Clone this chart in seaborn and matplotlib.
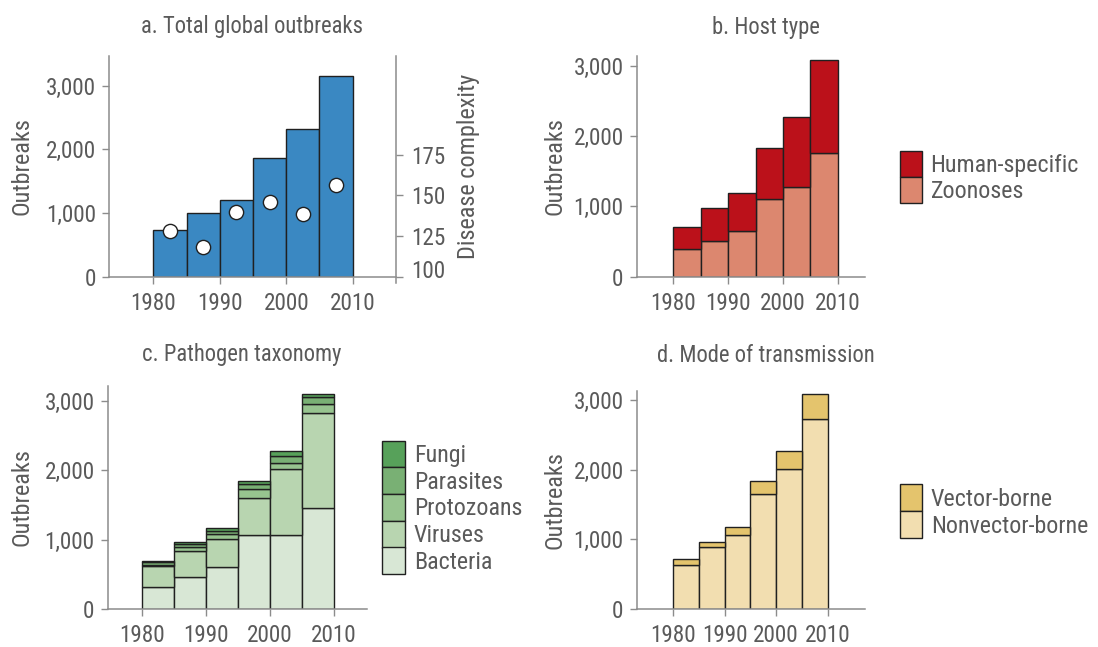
import numpy as np
import pandas as pd
import matplotlib
matplotlib.use("Agg")
import matplotlib.pyplot as plt
import seaborn as sns
from matplotlib import font_manager as fm
from matplotlib.font_manager import FontProperties
from matplotlib.textpath import TextPath
from matplotlib.patches import Patch
from matplotlib.transforms import blended_transform_factory, ScaledTranslation

# ---------------- data ----------------
bin_edges = [1980, 1985, 1990, 1995, 2000, 2005, 2010]
periods = [1982.5, 1987.5, 1992.5, 1997.5, 2002.5, 2007.5]

total_outbreaks = [733, 995, 1204, 1864, 2319, 3152]
disease_complexity = [128.1, 118.4, 139.8, 145.9, 138.5, 156.6]

host_labels = ["Human-specific", "Zoonoses"]
human_specific = [314, 465, 550, 717, 992, 1319]
zoonoses = [389, 513, 646, 1111, 1277, 1766]

taxa_labels = ["Fungi", "Parasites", "Protozoans", "Viruses", "Bacteria"]
fungi = [12, 35, 41, 53, 72, 38]
parasites = [38, 32, 55, 67, 91, 101]
protozoans = [15, 63, 67, 125, 96, 139]
viruses = [297, 369, 398, 537, 945, 1359]
bacteria = [322, 466, 610, 1066, 1066, 1459]

mode_labels = ["Vector-borne", "Nonvector-borne"]
vector_borne = [81, 72, 120, 191, 258, 363]
nonvector_borne = [632, 890, 1062, 1646, 2010, 2723]

x_ticks = [1980, 1990, 2000, 2010]
y_ticks = [0, 1000, 2000, 3000]
y_tick_labels = ["0", "1,000", "2,000", "3,000"]
complexity_ticks = [100, 125, 150, 175]
complexity_tick_labels = ["100", "125", "150", "175"]

titles = ["a. Total global outbreaks", "b. Host type",
          "c. Pathogen taxonomy", "d. Mode of transmission"]

# ---------------- colours ----------------
BLUE = "#3a88c2"
host_colors = {"Human-specific": "#bb111a", "Zoonoses": "#dc876f"}
taxa_colors = {"Fungi": "#57a15a", "Parasites": "#79b074", "Protozoans": "#97c48f",
               "Viruses": "#b8d5b0", "Bacteria": "#d8e7d5"}
mode_colors = {"Vector-borne": "#e4c46d", "Nonvector-borne": "#f2deb0"}
EDGE = "#202020"
SPINE = "#8c8c8c"
TEXT = "#5a5a5a"

# ---------------- font ----------------
def pick_font():
    entries = fm.fontManager.ttflist
    names = {e.name for e in entries}
    for cand in ["Noto Sans SemiCondensed", "Roboto Condensed", "Open Sans SemiCondensed",
                 "Noto Sans Condensed", "Open Sans Condensed", "Liberation Sans Narrow",
                 "Arial Narrow"]:
        if cand in names:
            return cand, "normal"
    for e in entries:
        if e.name == "DejaVu Sans" and str(e.stretch) in ("condensed", "semi-condensed"):
            return "DejaVu Sans", "condensed"
    for e in entries:
        if ("Condensed" in e.name or "Narrow" in e.name) and "CJK" not in e.name:
            return e.name, "normal"
    return "Roboto", "normal"

FONT, STRETCH = pick_font()

sns.set_style("ticks")
plt.rcParams["font.family"] = [FONT, "DejaVu Sans"]
plt.rcParams["font.stretch"] = STRETCH
plt.rcParams["text.color"] = TEXT
plt.rcParams["axes.labelcolor"] = TEXT

PX = 100 / 72.0


def fit(sample, w_px, cap_px):
    fp = FontProperties(family=FONT, stretch=STRETCH, size=10)
    w = TextPath((0, 0), sample, prop=fp).get_extents().width * PX
    c = TextPath((0, 0), "H", prop=fp).get_extents().height * PX
    sw = 10 * w_px / w
    sh = 10 * cap_px / c
    return (sw * sh) ** 0.5


TICK_FS = fit("3,000", 48, 16.3)
LEG_FS = fit("Human-specific", 149, 16.7)
YLAB_FS = fit("Disease complexity", 183, 17.3)
TITLE_FS = fit("a. Total global outbreaks", 233, 13.2) * 1.07

W, H = 1098, 647
fig = plt.figure(figsize=(W / 100, H / 100), dpi=100)
fig.patch.set_facecolor("white")


def add_axes_px(left, right, top, bottom):
    return fig.add_axes([left / W, 1 - bottom / H, (right - left) / W, (bottom - top) / H])


def style_axis(ax, xlim, ytop, ylabel_x):
    ax.set_xlim(*xlim)
    ax.set_ylim(0, ytop)
    ax.set_xticks(x_ticks)
    ax.set_xticklabels([str(t) for t in x_ticks])
    ax.set_yticks(y_ticks)
    ax.set_yticklabels(y_tick_labels)
    for s in ("top", "right"):
        ax.spines[s].set_visible(False)
    for s in ("left", "bottom"):
        ax.spines[s].set_color(SPINE)
        ax.spines[s].set_linewidth(1.1)
    ax.tick_params(axis="both", labelsize=TICK_FS, colors=SPINE, labelcolor=TEXT,
                   length=5, width=1.0, direction="out")
    ax.tick_params(axis="x", pad=6)
    ax.tick_params(axis="y", pad=4.5)
    ax.set_xlabel("")
    ax.set_ylabel("Outbreaks", fontsize=YLAB_FS, color=TEXT)
    desc = 0.21 * YLAB_FS * PX
    tr = blended_transform_factory(fig.transFigure, ax.transAxes)
    ax.yaxis.set_label_coords((ylabel_x + desc) / W, 0.5, transform=tr)
    ax.set_facecolor("none")


def make_long(labels, series):
    rows = []
    for lab, vals in zip(labels, series):
        for p, v in zip(periods, vals):
            rows.append({"period": p, "count": v, "group": lab})
    return pd.DataFrame(rows)


def add_legend(ax, labels, colors, x_px, y_px, patch_h=26.6, patch_w=22.5):
    handles = [Patch(facecolor=colors[l], edgecolor=EDGE, linewidth=1.0) for l in labels]
    fs_px = LEG_FS * PX
    hh = (patch_h / fs_px - 0.245) / 0.65
    ax.legend(handles=handles, labels=labels, loc="upper left",
              bbox_to_anchor=(x_px / W, 1 - y_px / H), bbox_transform=fig.transFigure,
              frameon=False, fontsize=LEG_FS, labelcolor=TEXT,
              handlelength=patch_w / fs_px, handleheight=hh,
              handletextpad=8.5 / fs_px, labelspacing=0.0, borderpad=0.0,
              borderaxespad=0.0)


# ---------------- panel a ----------------
axa = add_axes_px(109, 395.7, 56, 276.7)
sns.histplot(x=periods, weights=total_outbreaks, bins=bin_edges, color=BLUE,
             edgecolor=EDGE, linewidth=1.0, alpha=1, ax=axa)
style_axis(axa, (1973.3, 2016.5), 3466, 28)

axa2 = axa.twinx()
sns.scatterplot(x=periods, y=disease_complexity, ax=axa2, s=105, color="white",
                edgecolor=EDGE, linewidth=1.0, zorder=5)
axa2.set_xlim(1973.3, 2016.5)
axa2.set_ylim(100, 235.7)
axa2.set_yticks(complexity_ticks)
axa2.set_yticklabels(complexity_tick_labels)
for s in ("top", "left", "bottom"):
    axa2.spines[s].set_visible(False)
axa2.spines["right"].set_color(SPINE)
axa2.spines["right"].set_linewidth(1.1)
axa2.spines["right"].set_bounds(96.0, 235.7)
axa2.tick_params(axis="y", labelsize=TICK_FS, colors=SPINE, labelcolor=TEXT,
                 length=5, width=1.0, direction="out", pad=6.5)
# the "100" label sits a little above its tick in the reference
lbl100 = axa2.get_yticklabels()[0]
lbl100.set_transform(lbl100.get_transform() + ScaledTranslation(0, 7.5 / 100, fig.dpi_scale_trans))
axa2.set_ylabel("Disease complexity", fontsize=YLAB_FS, color=TEXT, rotation=90)
tr2 = blended_transform_factory(fig.transFigure, axa2.transAxes)
axa2.yaxis.set_label_coords(457.3 / W, 0.5, transform=tr2)

# ---------------- panel b ----------------
axb = add_axes_px(636.7, 865, 56, 276.7)
df_b = make_long(host_labels, [human_specific, zoonoses])
sns.histplot(data=df_b, x="period", weights="count", hue="group", hue_order=host_labels,
             palette=host_colors, bins=bin_edges, multiple="stack", edgecolor=EDGE,
             linewidth=1.0, alpha=1, legend=False, ax=axb)
style_axis(axb, (1973.3, 2015.0), 3142, 561.7)
add_legend(axb, host_labels, host_colors, 900, 151, patch_h=26.0, patch_w=22.0)

# ---------------- panel c ----------------
axc = add_axes_px(107.7, 366.7, 386, 609)
df_c = make_long(taxa_labels, [fungi, parasites, protozoans, viruses, bacteria])
sns.histplot(data=df_c, x="period", weights="count", hue="group", hue_order=taxa_labels,
             palette=taxa_colors, bins=bin_edges, multiple="stack", edgecolor=EDGE,
             linewidth=1.0, alpha=1, legend=False, ax=axc)
style_axis(axc, (1974.6, 2015.1), 3211, 28.3)
add_legend(axc, taxa_labels, taxa_colors, 382.3, 440.7, patch_h=26.7, patch_w=23.0)

# ---------------- panel d ----------------
axd = add_axes_px(636.7, 865, 390.7, 609)
df_d = make_long(mode_labels, [vector_borne, nonvector_borne])
sns.histplot(data=df_d, x="period", weights="count", hue="group", hue_order=mode_labels,
             palette=mode_colors, bins=bin_edges, multiple="stack", edgecolor=EDGE,
             linewidth=1.0, alpha=1, legend=False, ax=axd)
style_axis(axd, (1973.0, 2017.2), 3134, 561.7)
add_legend(axd, mode_labels, mode_colors, 900, 484, patch_h=27.0, patch_w=22.3)

# ---------------- titles ----------------
title_pos = [(252.5, 33.3), (766, 34.0), (242, 361.5), (766, 361.5)]
for t, (x, y) in zip(titles, title_pos):
    fig.text(x / W, 1 - y / H, t, ha="center", va="baseline", fontsize=TITLE_FS, color=TEXT)

fig.savefig("out.png", dpi=100, facecolor="white")
